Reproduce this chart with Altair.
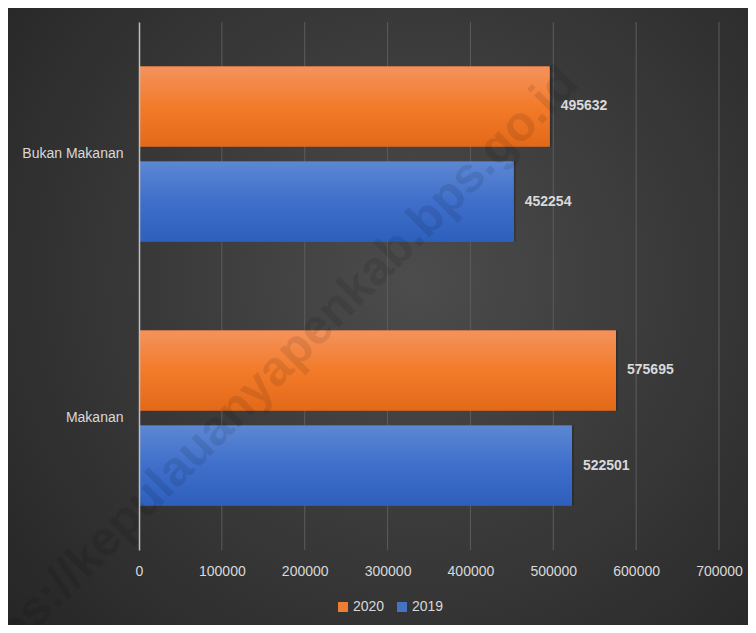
import altair as alt
import pandas as pd

categories = ["Bukan Makanan", "Makanan"]
years = ["2020", "2019"]
values_2020 = [495632, 575695]
values_2019 = [452254, 522501]
x_ticks = [0, 100000, 200000, 300000, 400000, 500000, 600000, 700000]
legend_colors = ["#ed7d31", "#4472c4"]
watermark = "https://kepulauanyapenkab.bps.go.id"

rows = []
for i, c in enumerate(categories):
    rows.append({"kategori": c, "tahun": "2020", "nilai": values_2020[i]})
    rows.append({"kategori": c, "tahun": "2019", "nilai": values_2019[i]})
df = pd.DataFrame(rows)

W, H = 580, 528
PAD = {"left": 131, "top": 14, "right": 29, "bottom": 75}
FONT = "Liberation Sans"
TXT = "#d9d9d9"

y_enc = alt.Y("kategori:N", sort=categories,
              scale=alt.Scale(paddingInner=0.337, paddingOuter=0.1685),
              axis=alt.Axis(title=None, ticks=False, domainColor="#bfbfbf", domainWidth=1.5,
                            labelColor=TXT, labelFontSize=14, labelFont=FONT, labelPadding=16,
                            grid=False, zindex=1))
yoff_enc = alt.YOffset("tahun:N", sort=years,
                       scale=alt.Scale(paddingInner=0.158, paddingOuter=0))
x_enc = alt.X("nilai:Q", scale=alt.Scale(domain=[0, 700000], nice=False),
              axis=alt.Axis(title=None, values=x_ticks, format="d", grid=False, domain=False,
                            ticks=False, labelColor=TXT, labelFontSize=14, labelFont=FONT,
                            labelPadding=14, labelFlush=False, labelOverlap=False, zindex=1))

bg = alt.Chart(pd.DataFrame({"a": [0]})).mark_rect(
    fill={"gradient": "radial", "x1": 0.55, "y1": 0.45, "r1": 0, "x2": 0.55, "y2": 0.45, "r2": 0.72,
          "stops": [{"offset": 0, "color": "#4c4c4c"}, {"offset": 1, "color": "#262626"}]}
).encode(x=alt.value(-PAD["left"]), x2=alt.value(W + PAD["right"]),
         y=alt.value(-PAD["top"]), y2=alt.value(H + PAD["bottom"]))

grid = alt.Chart(pd.DataFrame({"t": x_ticks[1:]})).mark_rule(color="#5c5c5c", strokeWidth=1).encode(
    x=alt.X("t:Q", scale=alt.Scale(domain=[0, 700000], nice=False)),
    y=alt.value(0), y2=alt.value(H))

base = alt.Chart(df)

solid = base.mark_bar().encode(
    y=y_enc, yOffset=yoff_enc, x=x_enc,
    color=alt.Color("tahun:N", sort=years,
                    scale=alt.Scale(domain=years, range=legend_colors),
                    legend=alt.Legend(title=None, orient="none", direction="horizontal",
                                      legendX=197, legendY=578, symbolType="square",
                                      symbolSize=100, symbolStrokeWidth=0, labelColor=TXT,
                                      labelFontSize=14, labelFont=FONT, columnPadding=10,
                                      labelOffset=3, padding=0, zindex=1)))

shadow = base.mark_bar(color="#000000", opacity=0.2, xOffset=2, yOffset=2).encode(
    y=y_enc, yOffset=yoff_enc, x=x_enc)

grad_or = base.transform_filter(alt.datum.tahun == "2020").mark_bar(
    fill={"gradient": "linear", "x1": 0, "y1": 0, "x2": 0, "y2": 1,
          "stops": [{"offset": 0, "color": "#f4925c"}, {"offset": 0.5, "color": "#f27b2a"},
                    {"offset": 1, "color": "#e36919"}]}
).encode(y=y_enc, yOffset=yoff_enc, x=x_enc)

grad_bl = base.transform_filter(alt.datum.tahun == "2019").mark_bar(
    fill={"gradient": "linear", "x1": 0, "y1": 0, "x2": 0, "y2": 1,
          "stops": [{"offset": 0, "color": "#5d87d3"}, {"offset": 0.5, "color": "#3f6fca"},
                    {"offset": 1, "color": "#2d5fbc"}]}
).encode(y=y_enc, yOffset=yoff_enc, x=x_enc)

labels = base.mark_text(align="left", baseline="middle", dx=11, fontSize=14, fontWeight="bold",
                        font=FONT, color=TXT).encode(
    y=y_enc, yOffset=yoff_enc, x=x_enc, text=alt.Text("nilai:Q", format="d"))

wm = alt.Chart(pd.DataFrame({"w": [watermark]})).mark_text(
    angle=315, fontSize=49, fontWeight="bold", font=FONT, fill="#000000", opacity=0.09,
    align="center", baseline="middle"
).encode(x=alt.value(126), y=alt.value(358), text="w:N")

chart = alt.layer(bg, grid, shadow, solid, grad_or, grad_bl, labels, wm).properties(
    width=W, height=H, padding=PAD, autosize=alt.AutoSizeParams(type="none"),
    background="#262626"
).configure_view(stroke=None)

chart.save("out.html", embed_options={"renderer": "svg", "actions": False})
